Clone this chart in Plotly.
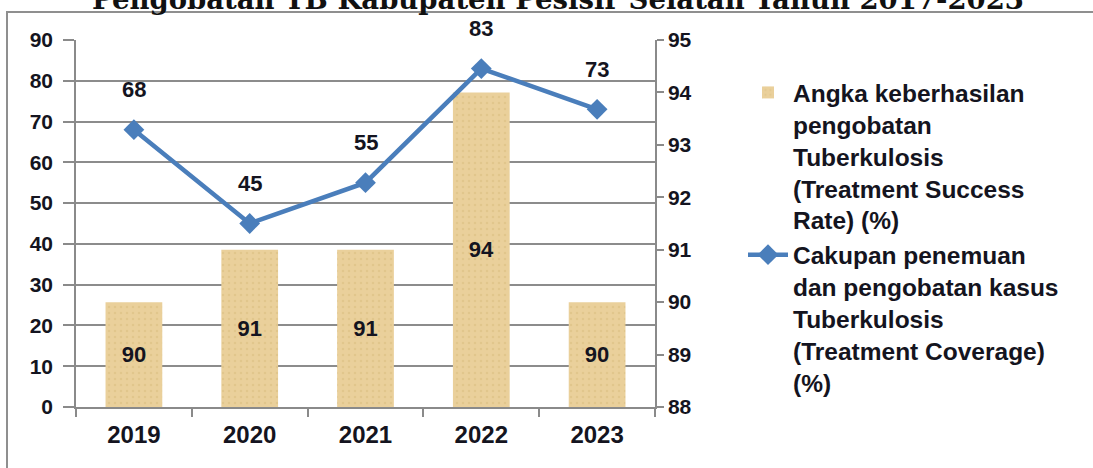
import plotly.graph_objects as go

# Data
years = ["2019", "2020", "2021", "2022", "2023"]
success_rate = [90, 91, 91, 94, 90]      # Treatment Success Rate (%), right axis
coverage = [68, 45, 55, 83, 73]          # Treatment Coverage (%), left axis
right_ticks = [88, 89, 90, 91, 92, 93, 94, 95]
left_ticks = [0, 10, 20, 30, 40, 50, 60, 70, 80, 90]

bar_base = right_ticks[0]

W, H = 1093, 468
ML, MR, MT, MB = 76, 438, 40, 61
PW, PH = W - ML - MR, H - MT - MB

def px_x(px):
    return (px - ML) / PW

def px_y(py):
    return (H - MB - py) / PH

AXIS_GREY = "#8a8a8a"
TEXT = "#141420"
LINE_BLUE = "#4A7EBB"
BAR_TAN = "#EAD09B"
FONT = "Liberation Sans, Arial, sans-serif"

fig = go.Figure()

fig.add_trace(go.Bar(
    x=years,
    y=[v - bar_base for v in success_rate],
    base=bar_base,
    text=[str(v) for v in success_rate],
    textposition="inside",
    insidetextanchor="middle",
    textangle=0,
    insidetextfont=dict(family=FONT, size=22, color=TEXT, weight="bold"),
    marker=dict(color=BAR_TAN, line=dict(width=0),
                pattern=dict(shape=".", fgcolor="#D8BB7E", bgcolor=BAR_TAN,
                             size=6, solidity=0.15)),
    width=0.49,
    yaxis="y",
    name="Angka keberhasilan<br>pengobatan<br>Tuberkulosis<br>(Treatment Success<br>Rate) (%)",
))

fig.add_trace(go.Scatter(
    x=years,
    y=coverage,
    mode="lines+markers",
    line=dict(color=LINE_BLUE, width=4.5),
    marker=dict(symbol="diamond", size=16, color=LINE_BLUE),
    yaxis="y2",
    name="Cakupan penemuan<br>dan pengobatan kasus<br>Tuberkulosis<br>(Treatment Coverage)<br>(%)",
))

# value labels above the line points (x given as category index)
for i, v in enumerate(coverage):
    fig.add_annotation(
        x=i, y=v, xref="x", yref="y2",
        text=str(v), showarrow=False, yshift=40,
        font=dict(family=FONT, size=22, color=TEXT, weight="bold"),
    )

# title, running off the top of the page
fig.add_annotation(
    x=0.5 * (px_x(96) + px_x(1020)), y=px_y(17), xref="paper", yref="paper",
    xanchor="center", yanchor="bottom", showarrow=False,
    text="Pengobatan TB Kabupaten Pesisir Selatan Tahun 2017-2023",
    font=dict(family="DejaVu Serif, serif", size=27.5, color="#111", weight="bold"),
)

# chart frame
fig.add_shape(
    type="rect", xref="paper", yref="paper", layer="below",
    x0=px_x(7), x1=px_x(1200), y0=px_y(600), y1=px_y(12),
    line=dict(color="#8f8f8f", width=2), fillcolor="rgba(0,0,0,0)",
)

tickfont = dict(family=FONT, size=21, color=TEXT, weight="bold")

fig.update_layout(
    width=W, height=H,
    margin=dict(l=ML, r=MR, t=MT, b=MB, pad=0),
    paper_bgcolor="white", plot_bgcolor="white",
    showlegend=True,
    legend=dict(
        x=px_x(743), y=px_y(70), xanchor="left", yanchor="top",
        xref="paper", yref="paper",
        font=dict(family=FONT, size=24.5, color=TEXT, weight="bold"),
        valign="top", itemwidth=40, bgcolor="rgba(0,0,0,0)",
        tracegroupgap=0,
    ),
    xaxis=dict(
        type="category", categoryorder="array", categoryarray=years,
        range=[-0.5, 4.5],
        showline=True, linecolor=AXIS_GREY, linewidth=1.5,
        ticks="outside", ticklen=8, tickcolor=AXIS_GREY, tickwidth=1.5,
        tickson="boundaries", ticklabelstandoff=5,
        tickfont=dict(family=FONT, size=24, color=TEXT, weight="bold"),
        showgrid=False, zeroline=False,
    ),
    yaxis=dict(
        side="right", range=[88, 95], tickvals=right_ticks,
        showline=True, linecolor=AXIS_GREY, linewidth=1.5,
        ticks="outside", ticklen=7, tickcolor=AXIS_GREY, tickwidth=1.5,
        tickfont=tickfont, showgrid=False, zeroline=False,
    ),
    yaxis2=dict(
        side="left", overlaying="y", range=[0, 90], tickvals=left_ticks,
        showline=True, linecolor=AXIS_GREY, linewidth=1.5,
        ticks="outside", ticklen=11, tickcolor=AXIS_GREY, tickwidth=1.5,
        ticklabelstandoff=6,
        tickfont=tickfont, showgrid=True, gridcolor="#8c8c8c", gridwidth=1.5,
        zeroline=False,
    ),
    bargap=0.5,
)

fig.write_html("out.html")
